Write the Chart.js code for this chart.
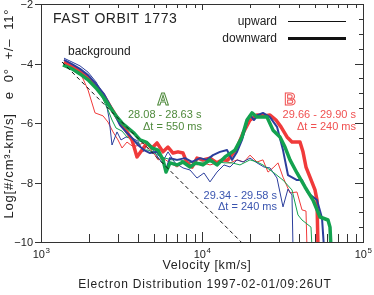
<!DOCTYPE html>
<html>
<head>
<meta charset="utf-8">
<script src="https://cdn.jsdelivr.net/npm/chart.js@4.4.0/dist/chart.umd.min.js"></script>
<style>
  html, body { margin: 0; padding: 0; background: #fff; }
  #wrap { width: 374px; height: 295px; }
</style>
</head>
<body>
<div id="wrap"><canvas id="c"></canvas></div>
<script>
// velocity [km/s] and log f
// A: 28.08 - 28.63 s (green), mid: 29.34 - 29.58 s (blue), B: 29.66 - 29.90 s (red)
const greenDownV = [1369,1558,1747,1959,2196,2463,2683,2924,3186,3471,3782,4121,4490,4892,5330,5726,5977,6328,6995,7622,8424,9178,10140,11212,12390,13895,16031,17720,19030,20440,21960,25330,27600,30507,32769,35196,38900,43620,48910,54060,60610,62370,63270];
const greenDownF = [-4.05,-4.18,-4.35,-4.55,-4.82,-5.16,-5.46,-5.76,-6.00,-6.17,-6.34,-6.57,-6.64,-6.84,-6.91,-7.24,-7.65,-7.34,-7.41,-7.31,-7.48,-7.34,-7.41,-7.24,-7.41,-7.14,-6.91,-6.47,-5.90,-5.66,-5.80,-5.80,-6.24,-6.47,-6.81,-7.24,-7.68,-8.15,-8.59,-9.16,-9.26,-9.50,-10.2];

const blueDownV = [1389,1558,1747,1959,2196,2463,2683,2882,3096,3373,3676,4005,4363,4754,5255,5726,5977,6328,6995,7843,8668,9718,10740,11700,12935,14300,15360,16500,17720,19030,19867,21030,22270,23920,26443,29230,31850,34200,38900,41790,45530,51790,55630,57250];
const blueDownF = [-3.88,-4.02,-4.18,-4.39,-4.69,-5.03,-5.40,-5.73,-6.07,-6.30,-6.50,-6.74,-6.91,-7.01,-6.97,-7.24,-7.58,-7.18,-7.24,-7.18,-7.31,-7.18,-7.24,-7.08,-6.97,-6.91,-7.24,-6.97,-6.57,-5.97,-5.73,-5.90,-5.73,-5.66,-5.80,-6.13,-6.91,-7.75,-7.92,-7.92,-8.35,-8.59,-9.19,-10.2];

const redDownV = [1389,1558,1747,1959,2196,2463,2683,2924,3141,3421,3676,3947,4240,4554,4892,5255,5726,6150,6606,7095,7622,8071,8668,9311,10140,11212,12390,13310,14500,16500,17970,19867,21960,24270,26443,28810,30950,33720,36220,40610,42390,44250,46850,50330,51790,52530];
const redDownF = [-3.95,-4.08,-4.25,-4.45,-4.76,-5.09,-5.43,-5.76,-6.03,-6.30,-6.57,-7.14,-6.91,-6.67,-6.84,-6.67,-6.97,-6.81,-7.01,-6.97,-7.01,-7.34,-7.48,-7.18,-7.24,-7.18,-7.34,-7.24,-7.24,-6.84,-6.34,-5.90,-5.73,-5.76,-5.73,-5.90,-6.13,-6.47,-6.64,-6.64,-6.97,-7.48,-7.82,-8.25,-8.59,-10.2];

const greenUpV = [1369,1558,1747,1959,2196,2393,2607,2761,2924,3186,3421,3728,4005,4301,4620,4963,5330,5892,6512,7301,8071,9048,10140,11212,12390,13895,15360,17219,19867,21960,23920,27600,31850,36220,39460,41790,47530,48220];
const greenUpF = [-3.98,-4.12,-4.29,-4.49,-4.82,-5.13,-5.56,-5.90,-6.17,-6.27,-6.47,-6.57,-6.67,-6.91,-6.91,-6.97,-7.08,-7.18,-7.24,-7.24,-7.31,-7.34,-7.31,-7.31,-7.31,-7.34,-7.34,-7.41,-7.24,-7.31,-7.41,-7.65,-7.92,-8.25,-9.09,-9.26,-9.50,-10.2];

const blueUpV = [1389,1558,1747,1959,2196,2393,2534,2645,2761,2966,3141,3373,3676,4005,4301,4620,5107,5644,6150,6798,7622,8424,9311,10290,11212,12390,13700,14925,16500,17970,19867,21960,24270,26443,29230,31850,34200,36220,36740];
const blueUpF = [-3.82,-3.95,-4.08,-4.29,-4.62,-4.96,-5.29,-5.83,-6.74,-6.30,-6.57,-6.47,-6.50,-6.61,-6.97,-6.67,-7.01,-7.34,-6.97,-7.34,-7.51,-7.58,-7.85,-7.68,-7.98,-7.65,-7.41,-7.48,-7.24,-7.31,-7.18,-7.34,-7.48,-7.51,-7.85,-8.82,-8.22,-8.42,-10.2];

const redUpV = [1389,1558,1747,1959,2165,2428,2607,2801,3009,3186,3421,3676,3947,4301,4620,4963,5330,5726,6328,6995,7622,8424,9311,10140,11212,12390,13310,14925,16500,18230,19867,21960,23920,25700,27600,29650,31850,35196,38900,41790,44250,44880];
const redUpF = [-3.88,-4.08,-4.29,-4.89,-5.66,-5.76,-5.97,-6.30,-6.57,-6.84,-6.64,-6.77,-6.77,-6.67,-6.84,-6.97,-7.24,-7.18,-7.34,-7.48,-7.34,-7.31,-7.41,-7.34,-7.41,-7.34,-7.24,-7.34,-7.24,-7.31,-7.08,-7.31,-7.24,-7.65,-7.51,-7.34,-7.82,-8.35,-8.32,-8.92,-8.96,-10.2];

// background (dashed)
const bgV = [1350, 17500];
const bgF = [-3.95, -10.0];

// axes
const xMajor = [1000, 10000, 100000];
const xMajorExp = ['3', '4', '5'];
const xMinor = [2000,3000,4000,5000,6000,7000,8000,9000,20000,30000,40000,50000,60000,70000,80000,90000];
const yMajor = [-10, -8, -6, -4, -2];
const yLabels = ['\u221210', '\u22128', '\u22126', '\u22124', '\u22122'];
const yMinor = [-9.5,-9,-8.5,-7.5,-7,-6.5,-5.5,-5,-4.5,-3.5,-3,-2.5];

const BLUE = '#2b3e9c', RED = '#f03a3a', GREEN = '#13a24f';
const FONT = '"Liberation Sans", Arial, sans-serif';

function pts(v, f) { return v.map((x, i) => ({ x: x, y: f[i] })); }

function line(v, f, color, width, dash) {
  return {
    data: pts(v, f),
    borderColor: color,
    borderWidth: width,
    borderDash: dash || [],
    pointRadius: 0,
    tension: 0,
    fill: false,
    clip: 0,
    borderJoinStyle: 'round'
  };
}

function txt(ctx, s, x, y, size, color, align, spacing) {
  ctx.font = size + 'px ' + FONT;
  ctx.fillStyle = color;
  ctx.textAlign = align || 'left';
  ctx.textBaseline = 'alphabetic';
  ctx.letterSpacing = (spacing || 0) + 'px';
  ctx.fillText(s, x, y);
  ctx.letterSpacing = '0px';
}

const frame = {
  id: 'frame',
  afterDraw(chart) {
    const { ctx, chartArea: a, scales: { x, y } } = chart;
    ctx.save();
    ctx.strokeStyle = '#333';
    ctx.lineWidth = 1;
    ctx.strokeRect(a.left + 0.5, a.top + 0.5, a.right - a.left, a.bottom - a.top);

    ctx.beginPath();
    const tickX = (v, lenB, lenT) => {
      const px = Math.round(x.getPixelForValue(v)) + 0.5;
      ctx.moveTo(px, a.bottom); ctx.lineTo(px, a.bottom - lenB);
      ctx.moveTo(px, a.top); ctx.lineTo(px, a.top + lenT);
    };
    xMinor.forEach(v => tickX(v, 8, 4));
    xMajor.forEach(v => tickX(v, 10, 6));
    yMajor.forEach(v => {
      const py = Math.round(y.getPixelForValue(v)) + 0.5;
      ctx.moveTo(a.left - 6, py); ctx.lineTo(a.left, py);
      ctx.moveTo(a.right, py); ctx.lineTo(a.right - 8, py);
    });
    yMinor.forEach(v => {
      const py = Math.round(y.getPixelForValue(v)) + 0.5;
      ctx.moveTo(a.right, py); ctx.lineTo(a.right - 4, py);
    });
    ctx.stroke();

    // tick labels
    xMajor.forEach((v, i) => {
      const px = x.getPixelForValue(v);
      ctx.font = '11px ' + FONT;
      const w1 = ctx.measureText('10').width;
      ctx.font = '8px ' + FONT;
      const w2 = ctx.measureText(xMajorExp[i]).width;
      const s = px - (w1 + w2) / 2;
      txt(ctx, '10', s, 258, 11, '#222');
      txt(ctx, xMajorExp[i], s + w1 + 0.5, 253, 8, '#222');
    });
    yMajor.forEach((v, i) => {
      txt(ctx, yLabels[i], 33, y.getPixelForValue(v) + 4, 11, '#222', 'right');
    });

    // axis titles
    txt(ctx, 'Velocity [km/s]', 207, 269, 12.5, '#222', 'center', 0.6);
    txt(ctx, 'Electron Distribution 1997-02-01/09:26UT', 205, 288, 12, '#222', 'center', 0.8);
    ctx.save();
    ctx.translate(13, 166);
    ctx.rotate(-Math.PI / 2);
    txt(ctx, 'Log[#/cm\u00b3-km/s]', 0, 0, 13, '#222', 'center', 0.8);
    ctx.restore();
    ctx.save();
    ctx.translate(13, 54);
    ctx.rotate(-Math.PI / 2);
    txt(ctx, 'e  0\u00b0  +/\u2013  11\u00b0', 0, 0, 13, '#222', 'center', 0.8);
    ctx.restore();

    // labels inside the plot
    txt(ctx, 'FAST ORBIT 1773', 53, 23, 14, '#222', 'left', 0.5);
    txt(ctx, 'upward', 277, 25, 12, '#222', 'right');
    txt(ctx, 'downward', 277, 42, 12, '#222', 'right');
    ctx.strokeStyle = '#111';
    ctx.lineWidth = 1;
    ctx.beginPath(); ctx.moveTo(288, 21.5); ctx.lineTo(346, 21.5); ctx.stroke();
    ctx.lineWidth = 3;
    ctx.beginPath(); ctx.moveTo(288, 38.5); ctx.lineTo(346, 38.5); ctx.stroke();
    txt(ctx, 'background', 68, 55, 12, '#222', 'left');

    const outline = (s, cx, by, color) => {
      ctx.font = 'bold 16px ' + FONT;
      ctx.textAlign = 'center';
      ctx.textBaseline = 'alphabetic';
      ctx.lineWidth = 1;
      ctx.strokeStyle = color;
      ctx.strokeText(s, cx, by);
    };
    outline('A', 163, 105, '#4f8a3c');
    txt(ctx, '28.08 - 28.63 s', 128, 118, 11, '#4f8a3c', 'left');
    txt(ctx, '\u0394t = 550 ms', 202, 130, 11, '#4f8a3c', 'right');
    outline('B', 290, 105, '#f05050');
    txt(ctx, '29.66 - 29.90 s', 356, 118, 11, '#f05050', 'right');
    txt(ctx, '\u0394t = 240 ms', 356, 130, 11, '#f05050', 'right');
    txt(ctx, '29.34 - 29.58 s', 277, 199, 11, '#3a55b0', 'right');
    txt(ctx, '\u0394t = 240 ms', 277, 210, 11, '#3a55b0', 'right');
    ctx.restore();
  }
};

new Chart(document.getElementById('c'), {
  type: 'line',
  data: {
    datasets: [
      line(bgV, bgF, '#111', 1, [4, 3]),
      line(greenDownV, greenDownF, GREEN, 3.5),
      line(blueDownV, blueDownF, BLUE, 2),
      line(redDownV, redDownF, RED, 3.5),
      line(greenUpV, greenUpF, GREEN, 1),
      line(blueUpV, blueUpF, BLUE, 1),
      line(redUpV, redUpF, RED, 1)
    ]
  },
  options: {
    responsive: true,
    maintainAspectRatio: false,
    devicePixelRatio: 1,
    animation: false,
    layout: { padding: { left: 41, right: 11, top: 4, bottom: 53 } },
    plugins: { legend: { display: false }, tooltip: { enabled: false } },
    scales: {
      x: { type: 'logarithmic', min: 1000, max: 100000, display: false },
      y: { type: 'linear', min: -10, max: -2, display: false }
    }
  },
  plugins: [frame]
});
</script>
</body>
</html>
